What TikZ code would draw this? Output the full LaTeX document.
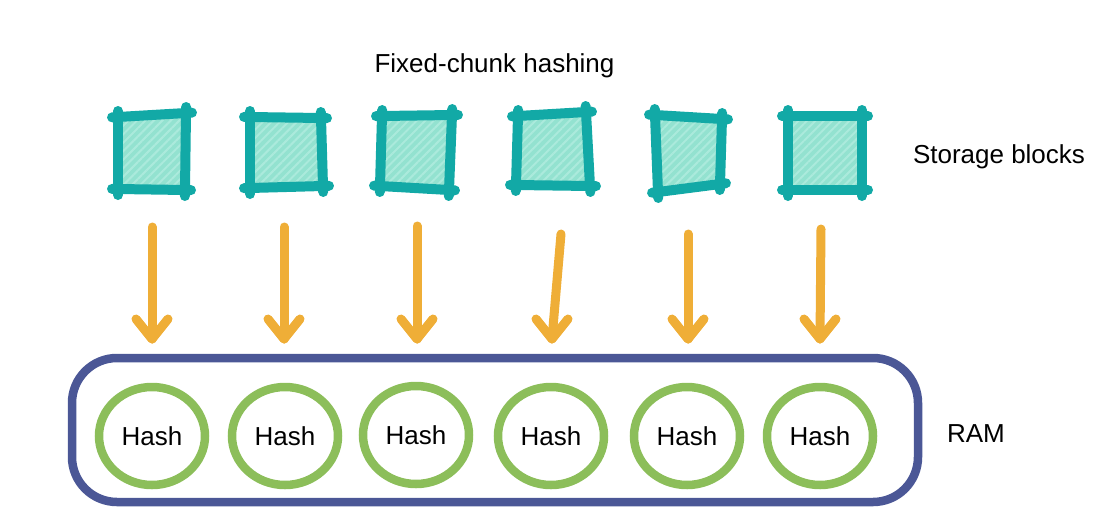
\documentclass[tikz,border=0pt]{standalone}
\usepackage{fontspec}
\setmainfont{Liberation Sans}
\usetikzlibrary{calc,patterns.meta,shapes.geometric}
\definecolor{tealline}{HTML}{12A9A6}
\definecolor{tealfill}{HTML}{93E2D0}
\definecolor{tealstripe}{HTML}{ABEADC}
\definecolor{arrowc}{HTML}{EFAE37}
\definecolor{hashc}{HTML}{8CBE5A}
\definecolor{ramc}{HTML}{4B5796}
\tikzset{
 blockedge/.style={draw=tealline, line width=10pt, line cap=round},
 blockfill/.style={fill=tealfill},
 blockhatch/.style={pattern={Lines[angle=45,distance=6pt,line width=2pt]}, pattern color=tealstripe},
 arr/.style={draw=arrowc, line width=9pt, line cap=round, line join=round},
 hashnode/.style={ellipse, draw=hashc, line width=8.5pt, minimum width=106pt, minimum height=98pt, inner sep=0pt, font=\fontsize{26}{30}\selectfont},
 ramnode/.style={rectangle, draw=ramc, line width=8.5pt, rounded corners=45pt, minimum width=846pt, minimum height=144pt, inner sep=0pt},
 lbl/.style={font=\fontsize{26}{30}\selectfont, inner sep=0pt, anchor=base},
}
\newcommand\skblock[5]{%
 \coordinate (#1a) at (#2); \coordinate (#1b) at (#3);
 \coordinate (#1c) at (#4); \coordinate (#1d) at (#5);
 \fill[blockfill] (#1a) -- (#1b) -- (#1c) -- (#1d) -- cycle;
 \fill[blockhatch] (#1a) -- (#1b) -- (#1c) -- (#1d) -- cycle;
 \draw[blockedge] ($(#1a)!-6pt!(#1b)$) -- ($(#1b)!-6pt!(#1a)$);
 \draw[blockedge] ($(#1b)!-6pt!(#1c)$) -- ($(#1c)!-6pt!(#1b)$);
 \draw[blockedge] ($(#1c)!-6pt!(#1d)$) -- ($(#1d)!-6pt!(#1c)$);
 \draw[blockedge] ($(#1d)!-6pt!(#1a)$) -- ($(#1a)!-6pt!(#1d)$);
}
\newcommand\skarrow[3]{%
 \coordinate (#1s) at (#2); \coordinate (#1e) at (#3);
 \draw[arr] (#1s) -- (#1e);
 \draw[arr] ([shift={(-16,-20)}]#1e) -- (#1e) -- ([shift={(16,-20)}]#1e);
}
\begin{document}
\begin{tikzpicture}[x=1pt,y=-1pt]
\useasboundingbox (0,0) rectangle (1104,512);
% storage blocks
\skblock{b1}{118,117}{186,113}{185,190}{118,189}
\skblock{b2}{250,117}{321,118}{323,186}{250,188}
\skblock{b3}{382,116}{452,115}{449,190}{380,186}
\skblock{b4}{518,116}{586,112}{590,186}{516,185}
\skblock{b5}{655,115}{722,119}{720,184}{658,192}
\skblock{b6}{788,116}{862,116}{862,190}{788,190}
% arrows
\skarrow{a1}{152,227}{152,339}
\skarrow{a2}{284,227}{284,339}
\skarrow{a3}{417,226}{417,339}
\skarrow{a4}{561,234}{552,339}
\skarrow{a5}{688,234}{688,339}
\skarrow{a6}{821,229}{820,339}
% RAM
\node[ramnode] (ram) at (495,430) {};
\node[hashnode] (h1) at (152,436) {Hash};
\node[hashnode] (h2) at (285,436) {Hash};
\node[hashnode] (h3) at (416,435) {Hash};
\node[hashnode] (h4) at (551,436) {Hash};
\node[hashnode] (h5) at (687,436) {Hash};
\node[hashnode] (h6) at (820,436) {Hash};
% labels
\node[lbl] (title) at (494.5,72) {Fixed-chunk hashing};
\node[lbl] (storage) at (999,163) {Storage blocks};
\node[lbl] (ramlbl) at (976,442) {RAM};
\end{tikzpicture}
\end{document}
